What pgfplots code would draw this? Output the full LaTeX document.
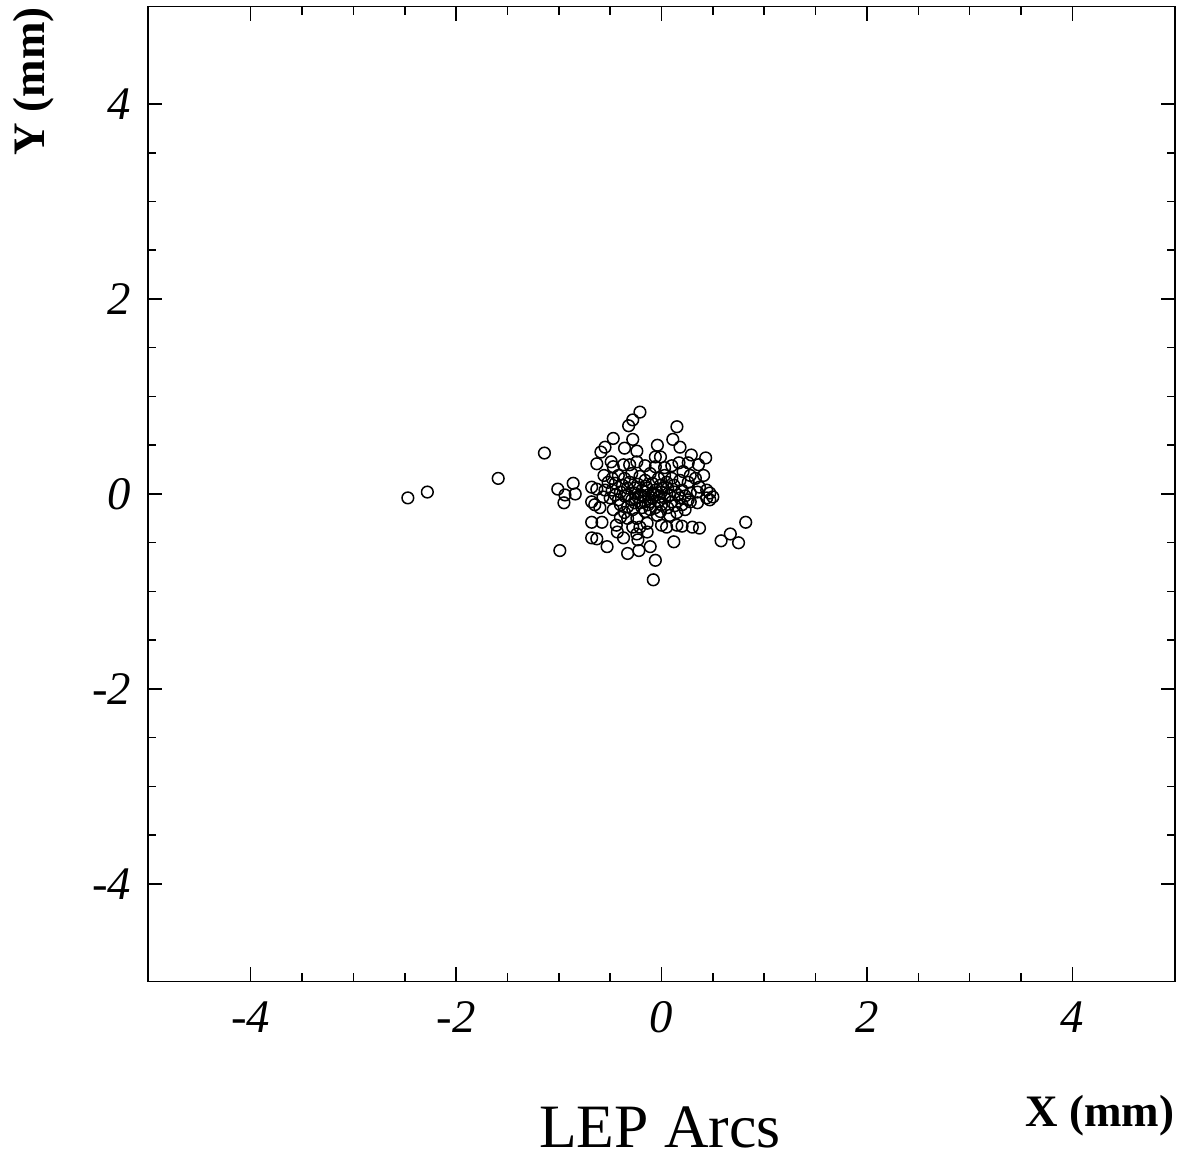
\documentclass[border=0pt]{standalone}
\usepackage{fontspec}
\setmainfont{Liberation Serif}
\usepackage{pgfplots}
\pgfplotsset{compat=1.18}
\begin{document}
\begin{tikzpicture}
\begin{axis}[
  at={(0,0)}, anchor=south west,
  scale only axis,
  width=308.1pt, height=292.5pt,
  xmin=-5, xmax=5, ymin=-5, ymax=5,
  xtick={-4,-2,0,2,4}, ytick={-4,-2,0,2,4},
  xticklabels={-4,-2,0,2,4}, yticklabels={-4,-2,0,2,4},
  minor tick num=3,
  tick align=inside,
  major tick length=4.3pt, minor tick length=2.4pt,
  xtick pos=both, ytick pos=both,
  axis line style={line width=0.55pt},
  every tick/.style={line width=0.45pt, black},
  ticklabel style={font=\fontsize{14}{16}\selectfont\itshape},
  xticklabel style={yshift=-2.5pt},
  yticklabel style={xshift=-1.5pt},
  clip=false,
]
\addplot[only marks, mark=o, mark size=1.75pt, mark options={line width=0.45pt, black}] coordinates {
(-2.47,-0.04) (-2.28,0.02) (-1.59,0.16) (-1.14,0.42) (-1.01,0.05) (-0.86,0.11)
(-0.94,-0.01) (-0.84,0.00) (-0.95,-0.09) (-0.99,-0.58) (-0.21,0.84) (-0.28,0.76)
(-0.32,0.70) (0.15,0.69) (-0.47,0.57) (-0.28,0.56) (0.11,0.56) (-0.55,0.48)
(-0.59,0.43) (-0.36,0.47) (-0.24,0.44) (-0.04,0.50) (0.18,0.48) (0.29,0.40)
(0.43,0.37) (-0.63,0.31) (-0.49,0.33) (-0.47,0.28) (-0.37,0.30) (-0.31,0.30)
(-0.24,0.33) (-0.06,0.38) (-0.01,0.38) (0.10,0.29) (0.17,0.32) (0.26,0.32)
(0.36,0.30) (0.21,0.23) (0.41,0.19) (-0.06,0.28) (0.37,0.07) (0.44,0.04)
(0.47,0.01) (0.50,-0.03) (-0.68,0.07) (-0.63,0.05) (-0.52,0.12) (-0.45,0.11)
(-0.68,-0.08) (-0.65,-0.11) (-0.60,-0.14) (-0.57,-0.03) (-0.68,-0.29) (-0.58,-0.29)
(-0.43,-0.39) (-0.44,-0.32) (-0.37,-0.45) (-0.68,-0.45) (-0.63,-0.46) (-0.53,-0.54)
(-0.33,-0.61) (-0.22,-0.58) (-0.23,-0.47) (-0.24,-0.41) (-0.11,-0.54) (-0.06,-0.68)
(-0.08,-0.88) (-0.40,-0.24) (-0.33,-0.25) (-0.24,-0.25) (-0.21,-0.34) (-0.14,-0.30)
(-0.14,-0.39) (-0.28,-0.34) (-0.47,-0.16) (-0.36,-0.19) (0.82,-0.29) (0.67,-0.41)
(0.58,-0.48) (0.75,-0.50) (0.12,-0.49) (0.37,-0.35) (0.30,-0.34) (0.20,-0.33)
(0.15,-0.32) (0.05,-0.34) (0.00,-0.32) (0.47,-0.06) (0.44,-0.04) (0.35,-0.09)
(0.28,-0.08) (0.23,-0.16) (0.15,-0.19) (0.08,-0.22) (-0.04,-0.22) (-0.11,-0.16)
(-0.42,0.19) (-0.36,0.16) (-0.29,0.21) (-0.21,0.18) (-0.16,0.14) (-0.11,0.21)
(-0.03,0.16) (0.03,0.19) (0.10,0.16) (0.18,0.14) (0.26,0.12) (0.33,0.16)
(-0.48,0.04) (-0.40,0.02) (-0.33,0.06) (-0.26,0.01) (-0.19,0.04) (-0.13,-0.01)
(-0.06,0.04) (0.00,0.02) (0.06,0.06) (0.13,0.02) (0.20,0.04) (0.28,0.01)
(0.35,0.02) (-0.50,-0.04) (-0.42,-0.06) (-0.36,-0.02) (-0.29,-0.06) (-0.23,-0.03)
(-0.16,-0.08) (-0.09,-0.04) (-0.03,-0.08) (0.03,-0.04) (0.10,-0.08) (0.18,-0.04)
(0.26,-0.06) (-0.40,-0.11) (-0.33,-0.13) (-0.26,-0.09) (-0.19,-0.14) (-0.13,-0.11)
(-0.06,-0.14) (0.00,-0.11) (0.06,-0.14) (0.13,-0.12) (0.20,-0.11) (-0.38,0.09)
(-0.31,0.12) (-0.23,0.10) (-0.15,0.08) (-0.09,0.11) (-0.01,0.09) (0.05,0.12)
(0.12,0.09) (0.28,0.19) (-0.26,0.06) (-0.20,-0.01) (-0.14,0.06) (-0.08,0.01)
(-0.02,-0.03) (0.01,0.06) (0.08,-0.01) (0.16,-0.01) (0.23,-0.02) (-0.45,-0.01)
(-0.33,-0.01) (-0.17,-0.03) (-0.11,-0.08) (-0.05,-0.01) (-0.21,-0.09) (-0.28,-0.16)
(-0.01,-0.18) (-0.16,-0.18) (-0.55,0.04) (-0.56,0.19) (-0.48,0.16) (0.03,0.27)
(-0.16,0.29)
};
\end{axis}
\node[anchor=base, font=\fontsize{18.5}{22}\selectfont] at (153.6pt,-49.8pt) {LEP Arcs};
\node[anchor=base, font=\fontsize{13.5}{16}\selectfont\bfseries] at (285.6pt,-43.65pt) {X (mm)};
\node[anchor=base, rotate=90, font=\fontsize{13.5}{16}\selectfont\bfseries] at (-30.9pt,270pt) {Y (mm)};
\pgfresetboundingbox
\path (-44.4pt,-53.55pt) rectangle (309.6pt,294.45pt);
\end{tikzpicture}
\end{document}
